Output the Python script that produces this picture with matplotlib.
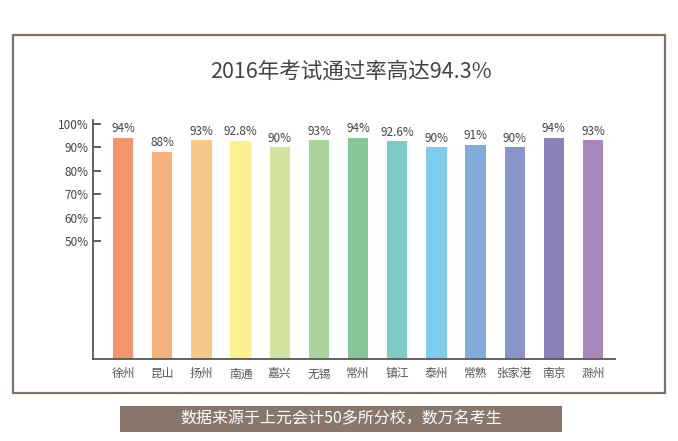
import matplotlib
matplotlib.use("Agg")
import matplotlib.pyplot as plt
from matplotlib.patches import Rectangle

plt.rcParams['font.family'] = ['Noto Sans CJK SC', 'DejaVu Sans']

cities = ['徐州', '昆山', '扬州', '南通', '嘉兴', '无锡', '常州',
          '镇江', '泰州', '常熟', '张家港', '南京', '滁州']
rates = [94, 88, 93, 92.8, 90, 93, 94, 92.6, 90, 91, 90, 94, 93]
rate_labels = ['94%', '88%', '93%', '92.8%', '90%', '93%', '94%',
               '92.6%', '90%', '91%', '90%', '94%', '93%']
colors = ['#F4956B', '#F5B07B', '#F8C986', '#FCF190', '#D0E29B', '#A9D49A',
          '#86C796', '#7FCBC4', '#7CCDEE', '#82AADB', '#8994C8', '#8B80B8',
          '#A887BC']
y_ticks = [50, 60, 70, 80, 90, 100]
y_tick_labels = ['50%', '60%', '70%', '80%', '90%', '100%']

title = '2016年考试通过率高达94.3%'
note = '数据来源于上元会计50多所分校，数万名考生'

W, H = 678, 441
fig = plt.figure(figsize=(W / 100, H / 100), dpi=100)
fig.patch.set_facecolor('white')

# outer frame
fig.patches.append(Rectangle((13 / W, 1 - 393 / H), 652 / W, 358 / H,
                             transform=fig.transFigure, fill=False,
                             edgecolor='#7d716a', linewidth=1.6))

fig.text(351 / W, 1 - 72 / H, title, ha='center', va='center',
         fontsize=15.5, color='#444444', fontweight='light')

ax = fig.add_axes([93 / W, 1 - 359 / H, 522 / W, 239 / H])
x = list(range(len(cities)))
bars = ax.bar(x, rates, width=0.52, color=colors)
for b, lab in zip(bars, rate_labels):
    ax.text(b.get_x() + b.get_width() / 2, b.get_height() + 1.2, lab,
            ha='center', va='bottom', fontsize=8.5, color='#444444')

ax.set_xlim(-0.77, 12.56)
ax.set_ylim(0, 101.7)
ax.set_yticks(y_ticks)
ax.set_yticklabels(y_tick_labels)
ax.set_xticks(x)
ax.set_xticklabels(cities)
ax.tick_params(axis='y', direction='in', length=6, width=1.2, colors='#444444',
               labelsize=8.5, pad=3)
ax.tick_params(axis='x', length=0, labelsize=8.5, colors='#555555', pad=6)
for s in ['top', 'right']:
    ax.spines[s].set_visible(False)
for s in ['left', 'bottom']:
    ax.spines[s].set_color('#555555')
    ax.spines[s].set_linewidth(1.3)

# bottom banner
fig.patches.append(Rectangle((120 / W, 1 - 432 / H), 442 / W, 26 / H,
                             transform=fig.transFigure, facecolor='#8a776c',
                             edgecolor='none'))
fig.text(341 / W, 1 - 419 / H, note, ha='center', va='center',
         fontsize=11.5, color='white')

fig.savefig('out.png', dpi=100)
